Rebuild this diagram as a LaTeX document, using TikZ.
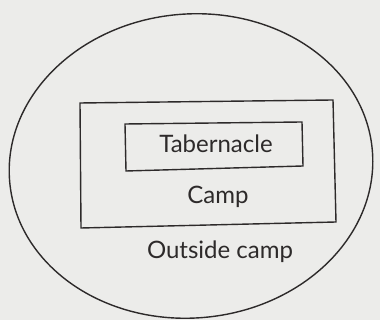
\documentclass[tikz,border=0pt]{standalone}
\usepackage{fontspec}
\setmainfont{Lato}
\definecolor{paper}{RGB}{236,236,234}
\definecolor{ink}{RGB}{45,42,42}
\begin{document}
\begin{tikzpicture}[
		x=1pt, y=1pt,
		line/.style={draw=ink, line width=1.4pt},
		label/.style={text=ink, font=\fontsize{24}{28}\selectfont, inner sep=0pt}
	]
	\fill[paper] (0,0) rectangle (380,320);
	\useasboundingbox (0,0) rectangle (380,320);
	% outside the camp
	\draw[line] (191,154) ellipse [x radius=182pt, y radius=152pt, rotate=5];
	% camp
	\draw[line] (80,217) -- (333,220) -- (336,98) -- (81,92) -- cycle;
	% tabernacle
	\draw[line] (125,196) -- (302,198) -- (303,154) -- (126,149) -- cycle;
	\node[label] (tabernacle) at (216,176) {Tabernacle};
	\node[label] (camp) at (218,123) {Camp};
	\node[label] (outside) at (220,68) {Outside camp};
\end{tikzpicture}
\end{document}
